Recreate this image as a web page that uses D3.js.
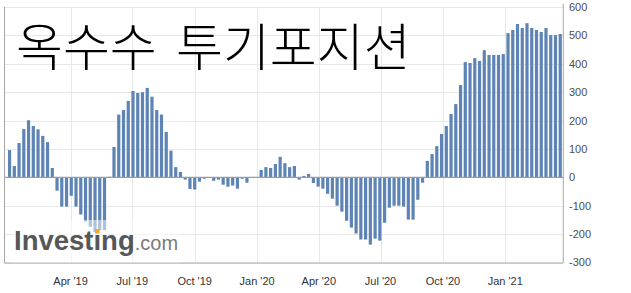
<!DOCTYPE html>
<html>
<head>
<meta charset="utf-8">
<script src="https://cdn.jsdelivr.net/npm/d3@7"></script>
<style>
  html, body { margin: 0; padding: 0; background: #fff; }
  svg { display: block; }
</style>
</head>
<body>
<div id="chart"></div>
<script>
// corn speculative net positions, weekly (thousand contracts)
const chartTitle = "옥수수 투기포지션";
const firstWeek = "2019-01-01";
const netPositions = [
  96, 40, 121, 170, 201, 181, 169, 146, 124, 33,
  -47, -103, -103, -65, -103, -131, -156, -174, -192, -186,
  -186, 2, 107, 221, 237, 269, 304, 297, 300, 315,
  284, 237, 221, 160, 94, 36, 19, -8, -41, -43,
  -15, -5, -1, -12, -8, -26, -33, -29, -40, -5,
  -19, -1, -1, 26, 36, 33, 47, 72, 50, 36,
  40, -8, 5, 12, -20, -33, -40, -58, -75, -100,
  -121, -153, -177, -198, -219, -219, -237, -216, -223, -160,
  -107, -100, -100, -103, -149, -149, -79, -19, 58, 82,
  110, 153, 181, 223, 258, 325, 406, 403, 420, 410,
  448, 431, 431, 431, 434, 508, 519, 540, 526, 543,
  526, 519, 512, 526, 501, 501, 505
];
const yTicks = [600, 500, 400, 300, 200, 100, 0, -100, -200, -300];
const xTickDates = ["2019-04-01", "2019-07-01", "2019-10-01", "2020-01-01",
                    "2020-04-01", "2020-07-01", "2020-10-01", "2021-01-01"];
const xTickLabels = ["Apr '19", "Jul '19", "Oct '19", "Jan '20",
                     "Apr '20", "Jul '20", "Oct '20", "Jan '21"];

const width = 631, height = 293;
const plot = { left: 4, right: 563.3, top: 7, bottom: 262.5 };
const parse = d3.utcParse("%Y-%m-%d");

const start = parse(firstWeek);
const data = netPositions.map((v, i) => ({ date: d3.utcDay.offset(start, 7 * i), value: v }));
const tickDates = xTickDates.map(parse);

const x = d3.scaleUtc()
    .domain([tickDates[0], tickDates[tickDates.length - 1]])
    .range([70.6, 505.3]);
const y = d3.scaleLinear().domain([-300, 600]).range([plot.bottom, plot.top]);

const svg = d3.select("#chart")
    .append("svg")
    .attr("width", width)
    .attr("height", height);

// grid
svg.append("g")
    .selectAll("line")
    .data(yTicks)
    .enter()
    .append("line")
    .attr("x1", plot.left)
    .attr("x2", plot.right)
    .attr("y1", d => Math.round(y(d)) + 0.5)
    .attr("y2", d => Math.round(y(d)) + 0.5)
    .attr("stroke", "#e8e8e8");

svg.append("g")
    .selectAll("line")
    .data(tickDates)
    .enter()
    .append("line")
    .attr("x1", d => Math.round(x(d)) + 0.5)
    .attr("x2", d => Math.round(x(d)) + 0.5)
    .attr("y1", plot.top)
    .attr("y2", plot.bottom)
    .attr("stroke", "#e8e8e8");

// title
svg.append("text")
    .attr("x", 16)
    .attr("y", 66)
    .style("font-family", "'Noto Sans CJK KR'")
    .style("font-size", "51px")
    .style("font-weight", "300")
    .style("word-spacing", "8px")
    .attr("fill", "#000")
    .text(chartTitle);

// bars
svg.append("g")
    .selectAll("rect")
    .data(data)
    .enter()
    .append("rect")
    .attr("x", d => x(d.date) - 1.6)
    .attr("width", 3.2)
    .attr("y", d => Math.min(y(d.value), y(0)))
    .attr("height", d => Math.abs(y(d.value) - y(0)))
    .attr("fill", "#5d84b5");

// zero line and frame
svg.append("line")
    .attr("x1", plot.left).attr("x2", plot.right)
    .attr("y1", y(0)).attr("y2", y(0))
    .attr("stroke", "#9c9c9c")
    .attr("stroke-width", 1.2);

const frame = svg.append("g").attr("stroke", "#a8a8a8").attr("fill", "none");
frame.append("path")
    .attr("d", `M${plot.left + 0.5},${plot.top}V${plot.bottom + 0.5}H${plot.right}`);
frame.append("line")
    .attr("x1", plot.right).attr("x2", plot.right)
    .attr("y1", 4).attr("y2", plot.bottom + 0.5);

// watermark
const wm = svg.append("g");
wm.append("rect")
    .attr("x", 11).attr("y", 220)
    .attr("width", 170).attr("height", plot.bottom - 220)
    .attr("fill", "#fff")
    .attr("opacity", 0.5);
const brand = wm.append("text")
    .attr("x", 14)
    .attr("y", 250)
    .style("font-family", "'Liberation Sans', Arial, sans-serif");
brand.append("tspan")
    .style("font-size", "27.5px")
    .style("font-weight", "bold")
    .attr("fill", "#575757")
    .text("Invest\u0131ng");
brand.append("tspan")
    .style("font-size", "20px")
    .attr("fill", "#7a7a7a")
    .text(".com");
const dotBox = brand.node().getExtentOfChar(6);
wm.append("rect")
    .attr("x", dotBox.x + dotBox.width / 2 - 2.3)
    .attr("y", 229)
    .attr("width", 4.6)
    .attr("height", 4.4)
    .attr("fill", "#f5a623");

// y axis labels (right)
svg.append("g")
    .selectAll("text")
    .data(yTicks)
    .enter()
    .append("text")
    .attr("x", 569)
    .attr("y", d => y(d))
    .attr("dy", "0.36em")
    .style("font-family", "'Liberation Sans', Arial, sans-serif")
    .style("font-size", "11px")
    .attr("fill", "#4d4d4d")
    .text(d => d);

// x axis labels
svg.append("g")
    .selectAll("text")
    .data(tickDates)
    .enter()
    .append("text")
    .attr("x", d => x(d))
    .attr("y", 285)
    .attr("text-anchor", "middle")
    .style("font-family", "'Liberation Sans', Arial, sans-serif")
    .style("font-size", "11px")
    .attr("fill", "#333")
    .text((d, i) => xTickLabels[i]);
</script>
</body>
</html>
